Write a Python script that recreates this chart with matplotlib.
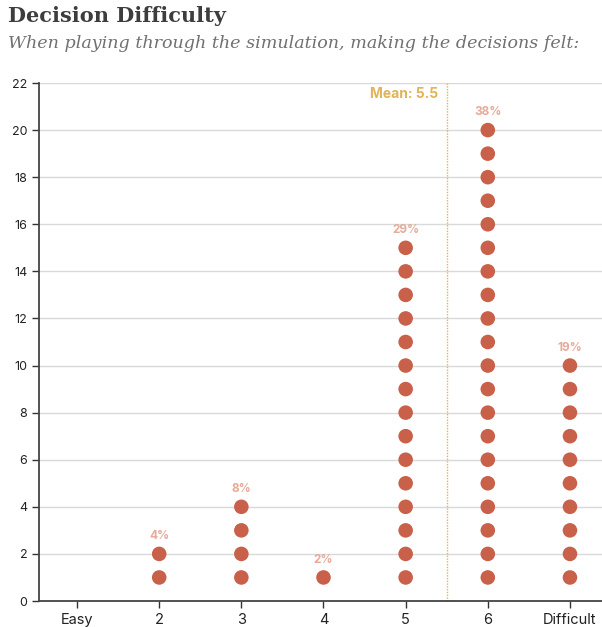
import matplotlib.pyplot as plt

# Responses per rating (1 = Easy ... 7 = Difficult)
categories = ["Easy", "2", "3", "4", "5", "6", "Difficult"]
counts = [0, 2, 4, 1, 15, 20, 10]
pct_labels = ["", "4%", "8%", "2%", "29%", "38%", "19%"]
mean_value = 5.5

dot_color = "#c8604a"
label_color = "#e8aa9a"
mean_color = "#e2b358"

fig = plt.figure(figsize=(6.02, 6.27), dpi=100)
ax = fig.add_axes([39 / 602, 26 / 627, 563 / 602, 518 / 627])

for i, n in enumerate(counts):
    xpos = i + 1
    ys = list(range(1, n + 1))
    ax.scatter([xpos] * n, ys, s=110, color=dot_color, edgecolors="none", zorder=3)
    if n > 0:
        ax.annotate(pct_labels[i], (xpos, n), xytext=(0, 8.5), textcoords="offset points",
                    ha="center", va="bottom", fontsize=8.5, fontweight="bold",
                    color=label_color, family="Inter")

# Mean marker
ax.axvline(mean_value, color=mean_color, linestyle=(0, (1, 1)), linewidth=1, zorder=2)
ax.annotate(f"Mean: {mean_value}", (mean_value, 22), xytext=(-6, -3), textcoords="offset points",
            ha="right", va="top", fontsize=10, fontweight="bold", color=mean_color, family="Inter")

ax.set_xlim(0.537, 7.39)
ax.set_ylim(0, 22)
ax.set_xticks(range(1, 8))
ax.set_xticklabels(categories, fontsize=10.5, family="Inter", color="#222222")
ax.set_yticks(range(0, 23, 2))
ax.set_yticklabels([str(v) for v in range(0, 23, 2)], fontsize=9, family="Inter", color="#222222")
ax.tick_params(axis="both", length=5, width=1, color="#333333")
ax.yaxis.grid(True, color="#d9d9d9", linewidth=1)
ax.set_axisbelow(True)
for side in ["top", "right"]:
    ax.spines[side].set_visible(False)
for side in ["left", "bottom"]:
    ax.spines[side].set_color("#444444")
    ax.spines[side].set_linewidth(1.3)

fig.text(8 / 602, 1 - 16 / 627, "Decision Difficulty", fontsize=15, fontweight="bold",
         color="#3d3d3d", family="DejaVu Serif", va="center")
fig.text(8 / 602, 1 - 44 / 627, "When playing through the simulation, making the decisions felt:",
         fontsize=12.6, style="italic", color="#707070", family="DejaVu Serif", va="center")

fig.savefig("out.png", dpi=100)
